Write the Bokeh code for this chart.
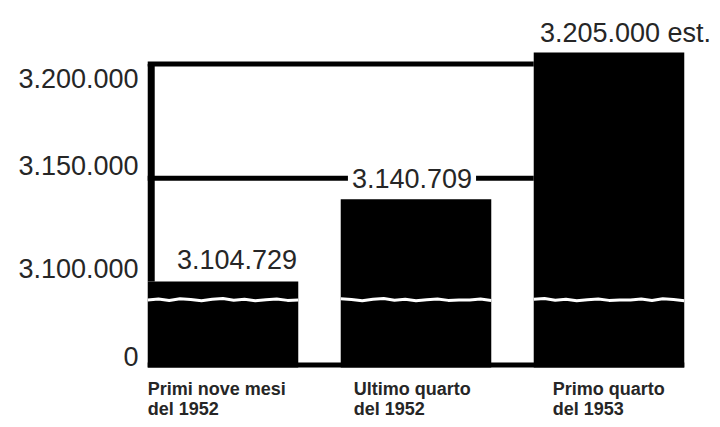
from bokeh.plotting import figure
from bokeh.models import Range1d, FixedTicker, ColumnDataSource
from bokeh.core.properties import value
from bokeh.embed import file_html
from bokeh.resources import INLINE

# ---- data ----
categories = ["Primi nove mesi\ndel 1952", "Ultimo quarto\ndel 1952", "Primo quarto\ndel 1953"]
values = [3_104_729, 3_140_709, 3_205_000]
value_labels = ["3.104.729", "3.140.709", "3.205.000 est."]
tick_labels = ["0", "3.100.000", "3.150.000", "3.200.000"]
ref_lines = [3_200_000, 3_150_000]

# ---- layout (broken axis) ----
Y_START, Y_END = 3_044_300, 3_224_300
BAR_FLOOR = 3_067_120        # where the broken axis shows "0"
BREAK = 3_096_670            # white break line across the bars
tick_pos = [3_071_936, 3_110_465, 3_155_561, 3_193_652]
X_START = -0.4067
PX_PER_X = 193.0
W = 0.78
FONT = value("Liberation Sans")
TXT = "#262626"

p = figure(width=712, height=419, output_backend="svg", toolbar_location=None,
           x_axis_type=None, x_range=Range1d(X_START, X_START + 568 / PX_PER_X),
           y_range=Range1d(Y_START, Y_END),
           min_border_left=144, min_border_right=0, min_border_top=8, min_border_bottom=0)
p.outline_line_color = None
p.grid.visible = False
p.background_fill_color = "white"
p.border_fill_color = "white"

xs = list(range(len(values)))

# bars
p.vbar(x=xs, width=W, top=values, bottom=BAR_FLOOR, fill_color="black", line_color=None)

# baseline under the gaps
p.quad(left=[xs[0] - W / 2], right=[xs[-1] + W / 2], bottom=[BAR_FLOOR],
       top=[BAR_FLOOR + 2_190], fill_color="black", line_color=None)

# horizontal reference lines up to the last bar
p.segment(x0=[xs[0] - W / 2] * len(ref_lines), x1=[xs[-1] - W / 2] * len(ref_lines),
          y0=ref_lines, y1=ref_lines, line_color="black", line_width=5)

# vertical axis line
axis_x = xs[0] - W / 2 + 3.5 / PX_PER_X
p.segment(x0=[axis_x], x1=[axis_x], y0=[values[0]], y1=[ref_lines[0]],
          line_color="black", line_width=7)

# wavy break across each bar
wave = [0, 450, -250, 500, 150, -400, 300, 650, -150, 250, -350, 100, 400, -200, 0]
bx, by = [], []
for i, x in enumerate(xs):
    n = len(wave)
    left, right = x - W / 2, x + W / 2
    bx.append([left + (right - left) * j / (n - 1) for j in range(n)])
    by.append([BREAK + wave[(j + 3 * i) % n] for j in range(n)])
p.multi_line(xs=bx, ys=by, line_color="white", line_width=3)

# value labels (the middle one interrupts the 3.150.000 line)
vsrc = ColumnDataSource(dict(x=xs, y=values, t=value_labels, dx=[14, -4, 16.5],
                             dy=[-22, -21, -20], bga=[0.0, 1.0, 0.0]))
p.text(x="x", y="y", text="t", source=vsrc, x_offset="dx", y_offset="dy",
       text_align="center", text_baseline="alphabetic", text_font=FONT,
       text_font_size="27px", text_color=TXT,
       background_fill_color="white", background_fill_alpha="bga",
       border_line_color=None, padding=(4, 0))

# category labels
csrc = ColumnDataSource(dict(x=[x - W / 2 for x in xs], y=[BAR_FLOOR] * 3,
                             t=categories, dx=[0, 13, 19]))
p.text(x="x", y="y", text="t", source=csrc, x_offset="dx", y_offset=12,
       text_align="left", text_baseline="top", text_font=FONT,
       text_font_size="18px", text_font_style="bold", text_color=TXT,
       text_line_height=1.0)

# y axis labels only
ax = p.yaxis[0]
ax.ticker = FixedTicker(ticks=tick_pos)
ax.major_label_overrides = {t: l for t, l in zip(tick_pos, tick_labels)}
ax.axis_line_color = None
ax.major_tick_line_color = None
ax.minor_tick_line_color = None
ax.major_tick_out = 0
ax.major_tick_in = 0
ax.major_label_standoff = 6
ax.major_label_text_font = "Liberation Sans"
ax.major_label_text_font_size = "27px"
ax.major_label_text_color = TXT

open("out.html", "w").write(file_html(p, INLINE))
